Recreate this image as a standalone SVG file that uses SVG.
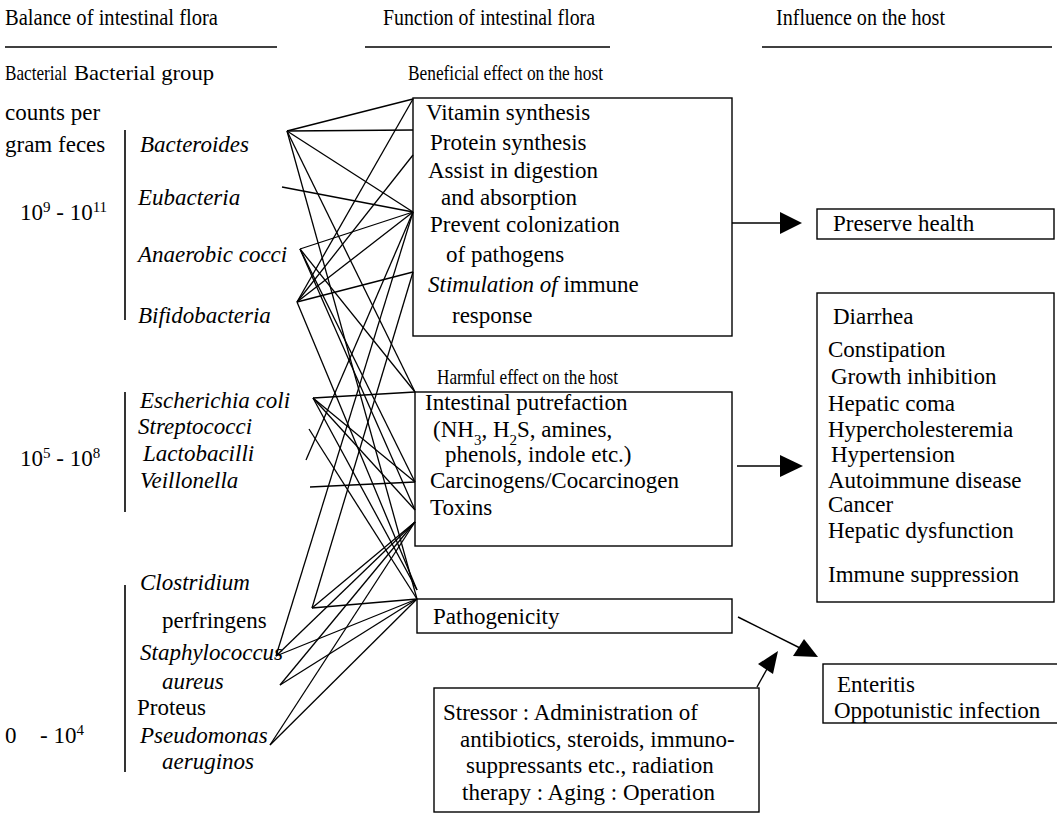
<svg xmlns="http://www.w3.org/2000/svg" width="1057" height="816" viewBox="0 0 1057 816" font-family="'Liberation Serif','Times New Roman',serif">
<style>
text{font-family:"Liberation Serif","Times New Roman",serif;font-size:23px;fill:#000}
.it{font-style:italic}
.hd{font-size:24px}
.hd2{font-size:21px}
.box{fill:none;stroke:#000;stroke-width:1.4}
.rule{stroke:#000;stroke-width:1.4}
.bar{stroke:#000;stroke-width:1.6}
#connectors line{stroke:#000;stroke-width:1.3}
.arr{stroke:#000;stroke-width:1.4;fill:none}
.head{fill:#000}
.sup{font-size:15px;baseline-shift:super}
.sub{font-size:15px;baseline-shift:sub}
</style>
<rect width="1057" height="816" fill="#fff"/>

<g id="headers">
<text class="hd" x="5" y="25" textLength="213" lengthAdjust="spacingAndGlyphs">Balance of intestinal flora</text>
<text class="hd" x="383" y="25" textLength="212" lengthAdjust="spacingAndGlyphs">Function of intestinal flora</text>
<text class="hd" x="776" y="25" textLength="169" lengthAdjust="spacingAndGlyphs">Influence on the host</text>
<line class="rule" x1="5" y1="47" x2="277" y2="47"/>
<line class="rule" x1="365" y1="47" x2="610" y2="47"/>
<line class="rule" x1="762" y1="47" x2="1052" y2="47"/>
<text class="hd2" x="5" y="80" textLength="62" lengthAdjust="spacingAndGlyphs">Bacterial</text>
<text class="hd2" x="74" y="80" textLength="140" lengthAdjust="spacingAndGlyphs">Bacterial group</text>
<text class="hd2" x="408" y="80" textLength="195" lengthAdjust="spacingAndGlyphs">Beneficial effect on the host</text>
</g>

<g id="counts">
<text x="5" y="120">counts per</text>
<text x="5" y="152">gram feces</text>
<text x="20" y="220">10<tspan class="sup">9</tspan> - 10<tspan class="sup">11</tspan></text>
<line class="bar" x1="125" y1="130" x2="125" y2="320"/>
<text x="20" y="466">10<tspan class="sup">5</tspan> - 10<tspan class="sup">8</tspan></text>
<line class="bar" x1="125" y1="392" x2="125" y2="512"/>
<text x="5" y="743">0</text>
<text x="40" y="743">- 10<tspan class="sup">4</tspan></text>
<line class="bar" x1="125" y1="585" x2="125" y2="772"/>
</g>

<g id="bacteria">
<text class="it" x="140" y="152">Bacteroides</text>
<text class="it" x="138" y="205">Eubacteria</text>
<text class="it" x="138" y="262">Anaerobic cocci</text>
<text class="it" x="138" y="323">Bifidobacteria</text>
<text class="it" x="140" y="408">Escherichia coli</text>
<text class="it" x="138" y="434">Streptococci</text>
<text class="it" x="143" y="461">Lactobacilli</text>
<text class="it" x="140" y="488">Veillonella</text>
<text class="it" x="140" y="590">Clostridium</text>
<text x="162" y="628">perfringens</text>
<text class="it" x="140" y="660">Staphylococcus</text>
<text class="it" x="162" y="689">aureus</text>
<text x="137" y="715">Proteus</text>
<text class="it" x="140" y="743">Pseudomonas</text>
<text class="it" x="162" y="769">aeruginos</text>
</g>

<g id="beneficial">
<rect class="box" x="413" y="98" width="319" height="238"/>
<text x="426" y="120">Vitamin synthesis</text>
<text x="430" y="150">Protein synthesis</text>
<text x="428" y="178">Assist in digestion</text>
<text x="441" y="205">and absorption</text>
<text x="430" y="232">Prevent colonization</text>
<text x="446" y="262">of pathogens</text>
<text x="428" y="292"><tspan class="it">Stimulation of</tspan> immune</text>
<text x="452" y="323">response</text>
</g>

<g id="harmful">
<text class="hd2" x="437" y="384" textLength="181" lengthAdjust="spacingAndGlyphs">Harmful effect on the host</text>
<rect class="box" x="415" y="392" width="317" height="154"/>
<text x="425" y="410">Intestinal putrefaction</text>
<text x="433" y="437">(NH<tspan class="sub">3</tspan>, H<tspan class="sub">2</tspan>S, amines,</text>
<text x="445" y="462">phenols, indole etc.)</text>
<text x="430" y="488">Carcinogens/Cocarcinogen</text>
<text x="430" y="515">Toxins</text>
</g>

<g id="pathogenicity">
<rect class="box" x="417" y="599" width="315" height="34"/>
<text x="433" y="624">Pathogenicity</text>
</g>

<g id="stressor">
<rect class="box" x="434" y="688" width="325" height="124"/>
<text x="443" y="720">Stressor : Administration of</text>
<text x="460" y="747">antibiotics, steroids, immuno-</text>
<text x="466" y="773">suppressants etc., radiation</text>
<text x="462" y="800">therapy : Aging : Operation</text>
</g>

<g id="preserve">
<rect class="box" x="817" y="209" width="237" height="30"/>
<text x="833" y="231">Preserve health</text>
</g>

<g id="diseases">
<rect class="box" x="817" y="293" width="237" height="309"/>
<text x="833" y="324">Diarrhea</text>
<text x="828" y="357">Constipation</text>
<text x="831" y="384">Growth inhibition</text>
<text x="828" y="411">Hepatic coma</text>
<text x="828" y="437">Hypercholesteremia</text>
<text x="831" y="462">Hypertension</text>
<text x="828" y="488">Autoimmune disease</text>
<text x="828" y="512">Cancer</text>
<text x="828" y="538">Hepatic dysfunction</text>
<text x="828" y="582">Immune suppression</text>
</g>

<g id="infection">
<rect class="box" x="823" y="664" width="240" height="59"/>
<text x="837" y="692">Enteritis</text>
<text x="834" y="718">Oppotunistic infection</text>
</g>

<g id="connectors">
<line x1="287" y1="131" x2="413" y2="99"/>
<line x1="287" y1="131" x2="413" y2="130"/>
<line x1="287" y1="131" x2="413" y2="212"/>
<line x1="287" y1="131" x2="415" y2="392"/>
<line x1="287" y1="131" x2="417" y2="599"/>
<line x1="282" y1="187" x2="413" y2="212"/>
<line x1="300" y1="249" x2="413" y2="212"/>
<line x1="300" y1="249" x2="415" y2="392"/>
<line x1="300" y1="249" x2="415" y2="482"/>
<line x1="300" y1="249" x2="415" y2="510"/>
<line x1="297" y1="302" x2="413" y2="99"/>
<line x1="297" y1="302" x2="413" y2="155"/>
<line x1="297" y1="302" x2="413" y2="212"/>
<line x1="297" y1="302" x2="413" y2="272"/>
<line x1="297" y1="302" x2="417" y2="590"/>
<line x1="313" y1="398" x2="415" y2="392"/>
<line x1="313" y1="398" x2="415" y2="482"/>
<line x1="313" y1="398" x2="415" y2="510"/>
<line x1="313" y1="398" x2="417" y2="590"/>
<line x1="309" y1="429" x2="417" y2="599"/>
<line x1="306" y1="460" x2="413" y2="212"/>
<line x1="310" y1="487" x2="415" y2="482"/>
<line x1="312" y1="608" x2="415" y2="522"/>
<line x1="312" y1="608" x2="417" y2="599"/>
<line x1="312" y1="608" x2="413" y2="272"/>
<line x1="276" y1="656" x2="415" y2="522"/>
<line x1="276" y1="656" x2="417" y2="599"/>
<line x1="276" y1="656" x2="413" y2="212"/>
<line x1="280" y1="685" x2="415" y2="522"/>
<line x1="280" y1="685" x2="417" y2="599"/>
<line x1="270" y1="745" x2="415" y2="522"/>
<line x1="270" y1="745" x2="417" y2="599"/>
</g>

<g id="arrows">
<line class="arr" x1="732" y1="223" x2="782" y2="223"/>
<polygon class="head" points="780,212 802,223 780,234"/>
<line class="arr" x1="737" y1="466" x2="782" y2="466"/>
<polygon class="head" points="780,455 803,466 780,477"/>
<line class="arr" x1="738" y1="617" x2="800" y2="648"/>
<polygon class="head" points="818,657 793,656 804,639"/>
<line class="arr" x1="757" y1="687" x2="767" y2="669"/>
<polygon class="head" points="778,651 758,664 773,674"/>
</g>
</svg>
